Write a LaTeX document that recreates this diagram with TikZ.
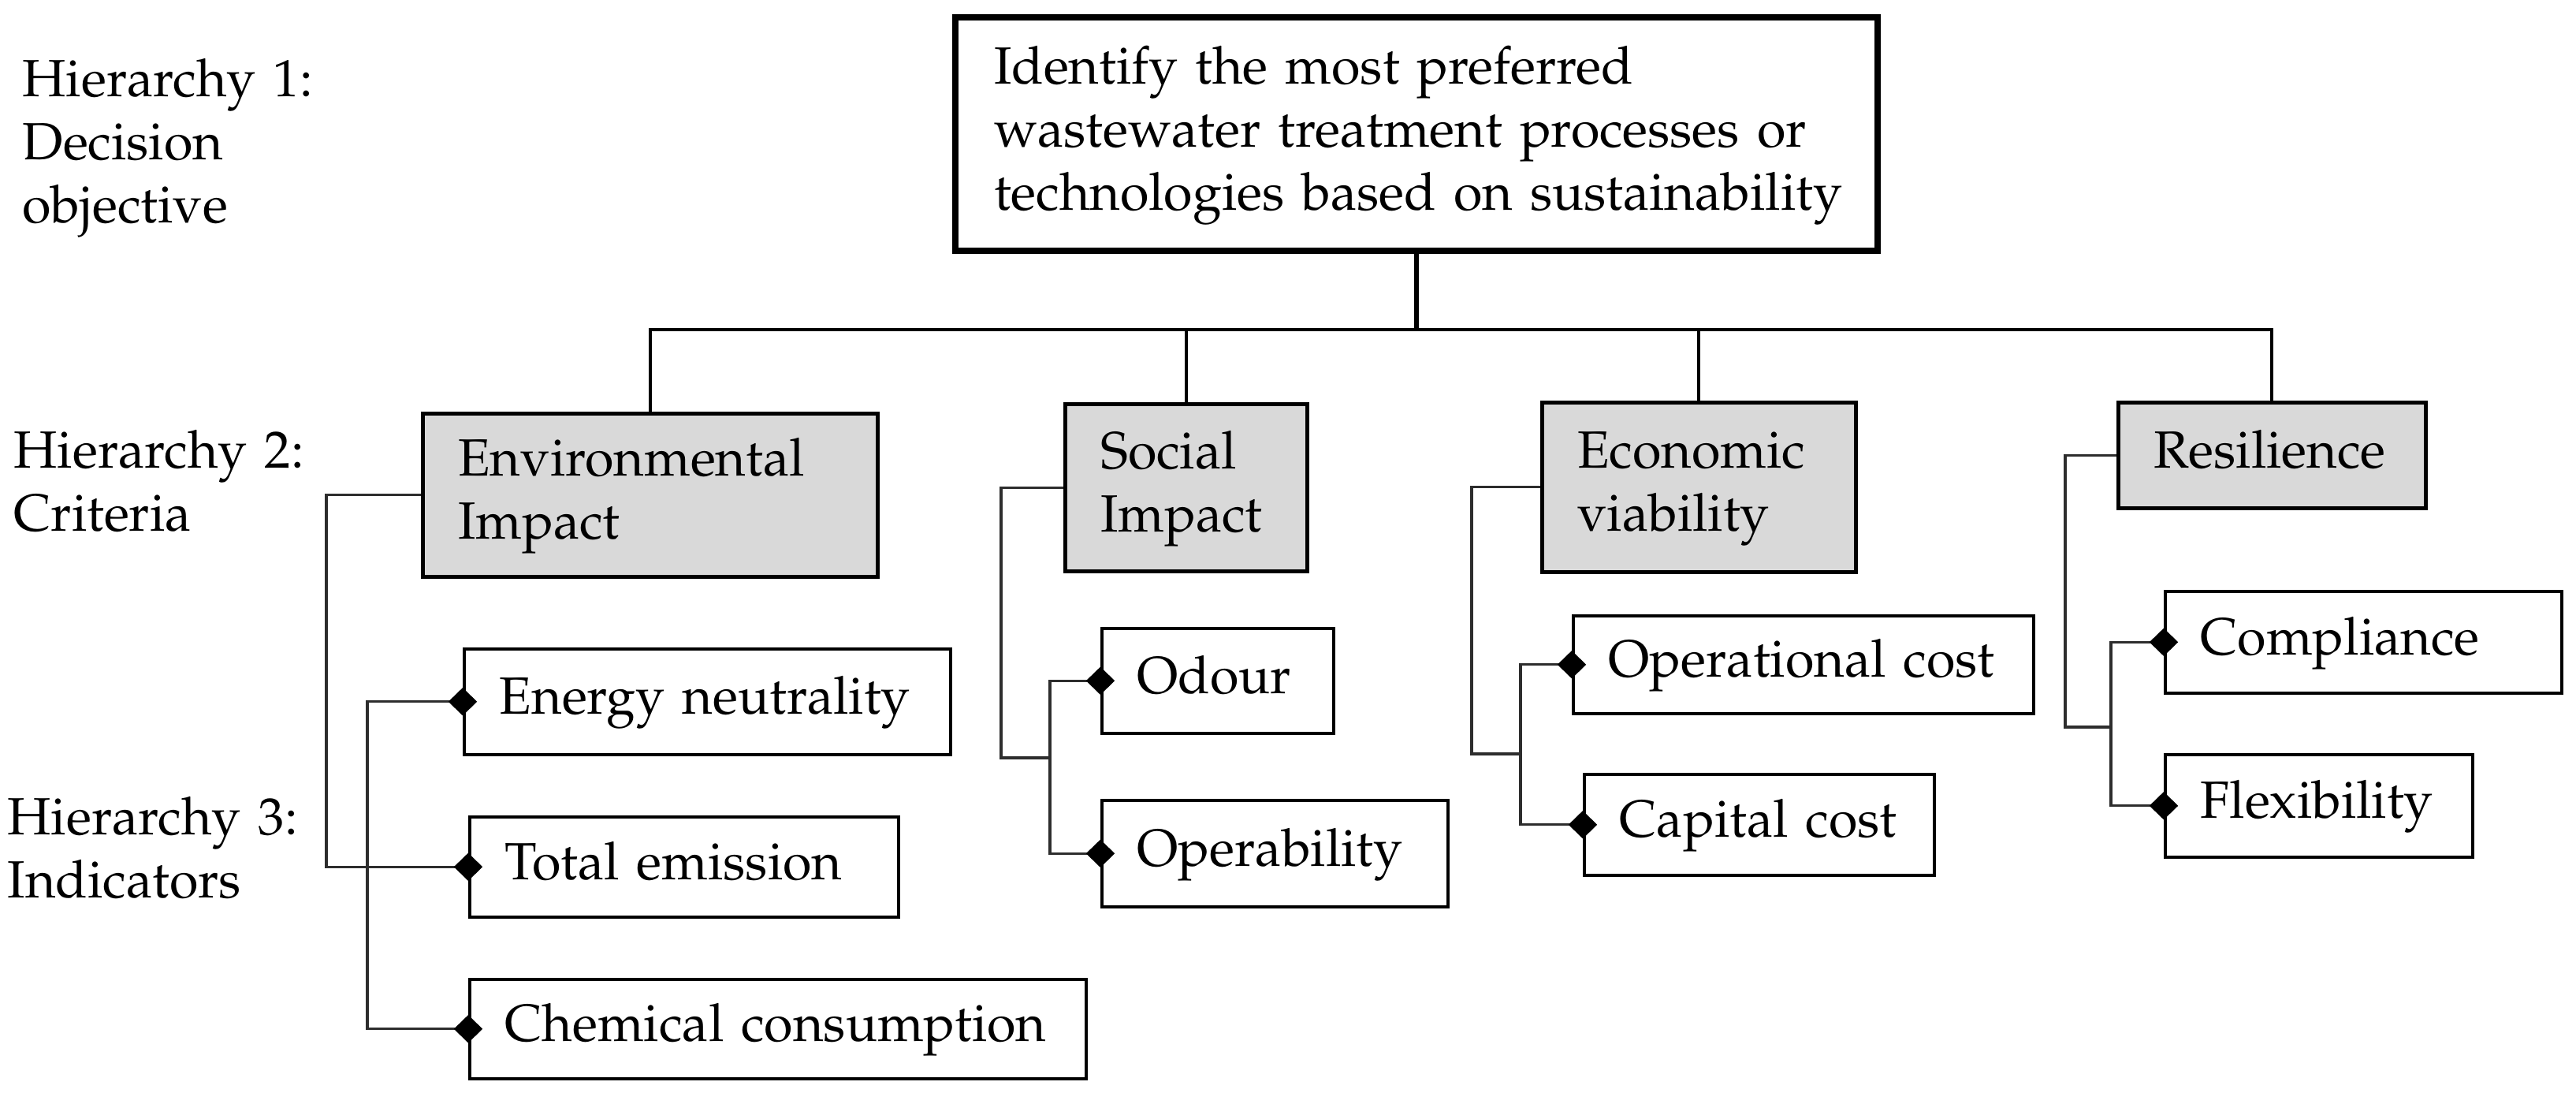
\documentclass[tikz,border=0pt]{standalone}
\usepackage[T1]{fontenc}
\renewcommand{\rmdefault}{ppl}
\usetikzlibrary{shapes.geometric}
\definecolor{critfill}{RGB}{217,217,217}
\definecolor{linegray}{RGB}{45,45,45}
\tikzset{
  txt/.style={font=\fontsize{18.9}{22.76}\selectfont, align=left, inner ysep=0pt},
  topbox/.style={txt, draw=black, line width=2.3pt, anchor=north west, inner xsep=0.49cm},
  critbox/.style={txt, draw=black, fill=critfill, line width=1.3pt, anchor=north west, inner xsep=0.45cm},
  indbox/.style={txt, draw=black, line width=1pt, anchor=north west, inner xsep=0.45cm},
  lvl/.style={txt, anchor=north west, inner sep=0pt, text width=5cm},
  tree/.style={line width=1.1pt},
  stem/.style={line width=1.6pt},
  brk/.style={line width=0.9pt, draw=linegray},
  knob/.style={diamond, fill=black, draw=none, inner sep=0pt, minimum width=0.37cm, minimum height=0.36cm},
}
\begin{document}
\begin{tikzpicture}
\useasboundingbox (0,0) rectangle (32.68,-13.85);

% level labels
\node[lvl] (h1) at (0.28,-0.66) {\mbox{\strut Hierarchy 1:}\\\mbox{\strut Decision}\\\mbox{\strut objective}};
\node[lvl] (h2) at (0.17,-5.37) {\mbox{\strut Hierarchy 2:}\\\mbox{\strut Criteria}};
\node[lvl] (h3) at (0.09,-10.02) {\mbox{\strut Hierarchy 3:}\\\mbox{\strut Indicators}};

% objective
\node[topbox, text width=10.72cm, minimum height=2.96cm] (top) at (12.08,-0.18)
  {\mbox{\strut Identify the most preferred}\\\mbox{\strut wastewater treatment processes or}\\\mbox{\strut technologies based on sustainability}};

% criteria
\node[critbox, text width=4.87cm, minimum height=2.07cm] (env) at (5.34,-5.22) {\mbox{\strut Environmental}\\\mbox{\strut Impact}};
\node[critbox, text width=2.17cm, minimum height=2.12cm] (soc) at (13.49,-5.10) {\mbox{\strut Social}\\\mbox{\strut Impact}};
\node[critbox, text width=3.08cm, minimum height=2.15cm] (eco) at (19.54,-5.08) {\mbox{\strut Economic}\\\mbox{\strut viability}};
\node[critbox, text width=3.00cm, minimum height=1.34cm] (res) at (26.85,-5.08) {\mbox{\strut Resilience}};

% indicators
\node[indbox, text width=5.27cm, minimum height=1.34cm] (en) at (5.87,-8.21) {\mbox{\strut Energy neutrality}};
\node[indbox, text width=4.54cm, minimum height=1.27cm] (tot) at (5.94,-10.34) {\mbox{\strut Total emission}};
\node[indbox, text width=6.92cm, minimum height=1.26cm] (chem) at (5.94,-12.40) {\mbox{\strut Chemical consumption}};
\node[indbox, text width=2.04cm, minimum height=1.33cm] (odo) at (13.96,-7.95) {\mbox{\strut Odour}};
\node[indbox, text width=3.49cm, minimum height=1.35cm] (ope) at (13.96,-10.13) {\mbox{\strut Operability}};
\node[indbox, text width=4.94cm, minimum height=1.24cm] (opc) at (19.94,-7.79) {\mbox{\strut Operational cost}};
\node[indbox, text width=3.54cm, minimum height=1.28cm] (cap) at (20.08,-9.80) {\mbox{\strut Capital cost}};
\node[indbox, text width=4.13cm, minimum height=1.29cm] (com) at (27.45,-7.48) {\mbox{\strut Compliance}};
\node[indbox, text width=3.00cm, minimum height=1.30cm] (fle) at (27.45,-9.55) {\mbox{\strut Flexibility}};

% tree from objective to criteria
\path (top.south) ++(0,-0.96) coordinate (bus);
\draw[stem] (top.south) -- (bus);
\draw[tree] (env.north) |- (bus) -| (res.north);
\draw[tree] (soc.north) -- (soc.north |- bus);
\draw[tree] (eco.north) -- (eco.north |- bus);

% brackets
\coordinate (envo) at (4.14,0);
\coordinate (envi) at (4.66,0);
\draw[brk] (env.west) -- (env.west -| envo) |- (tot.west);
\draw[brk] (en.west) -- (en.west -| envi) |- (chem.west);

\coordinate (soco) at (12.70,0);
\coordinate (socj) at (13.32,-9.61);
\draw[brk] (soc.west) -- (soc.west -| soco) |- (socj);
\draw[brk] (odo.west) -- (odo.west -| socj) |- (ope.west);

\coordinate (ecoo) at (18.67,0);
\coordinate (ecoj) at (19.29,-9.56);
\draw[brk] (eco.west) -- (eco.west -| ecoo) |- (ecoj);
\draw[brk] (opc.west) -- (opc.west -| ecoj) |- (cap.west);

\coordinate (reso) at (26.20,0);
\coordinate (resj) at (26.78,-9.22);
\draw[brk] (res.west) -- (res.west -| reso) |- (resj);
\draw[brk] (com.west) -- (com.west -| resj) |- (fle.west);

% diamonds
\node[knob] (k1) at (en.west) {};
\node[knob] (k2) at (tot.west) {};
\node[knob] (k3) at (chem.west) {};
\node[knob] (k4) at (odo.west) {};
\node[knob] (k5) at (ope.west) {};
\node[knob] (k6) at (opc.west) {};
\node[knob] (k7) at (cap.west) {};
\node[knob] (k8) at (com.west) {};
\node[knob] (k9) at (fle.west) {};
\end{tikzpicture}
\end{document}
